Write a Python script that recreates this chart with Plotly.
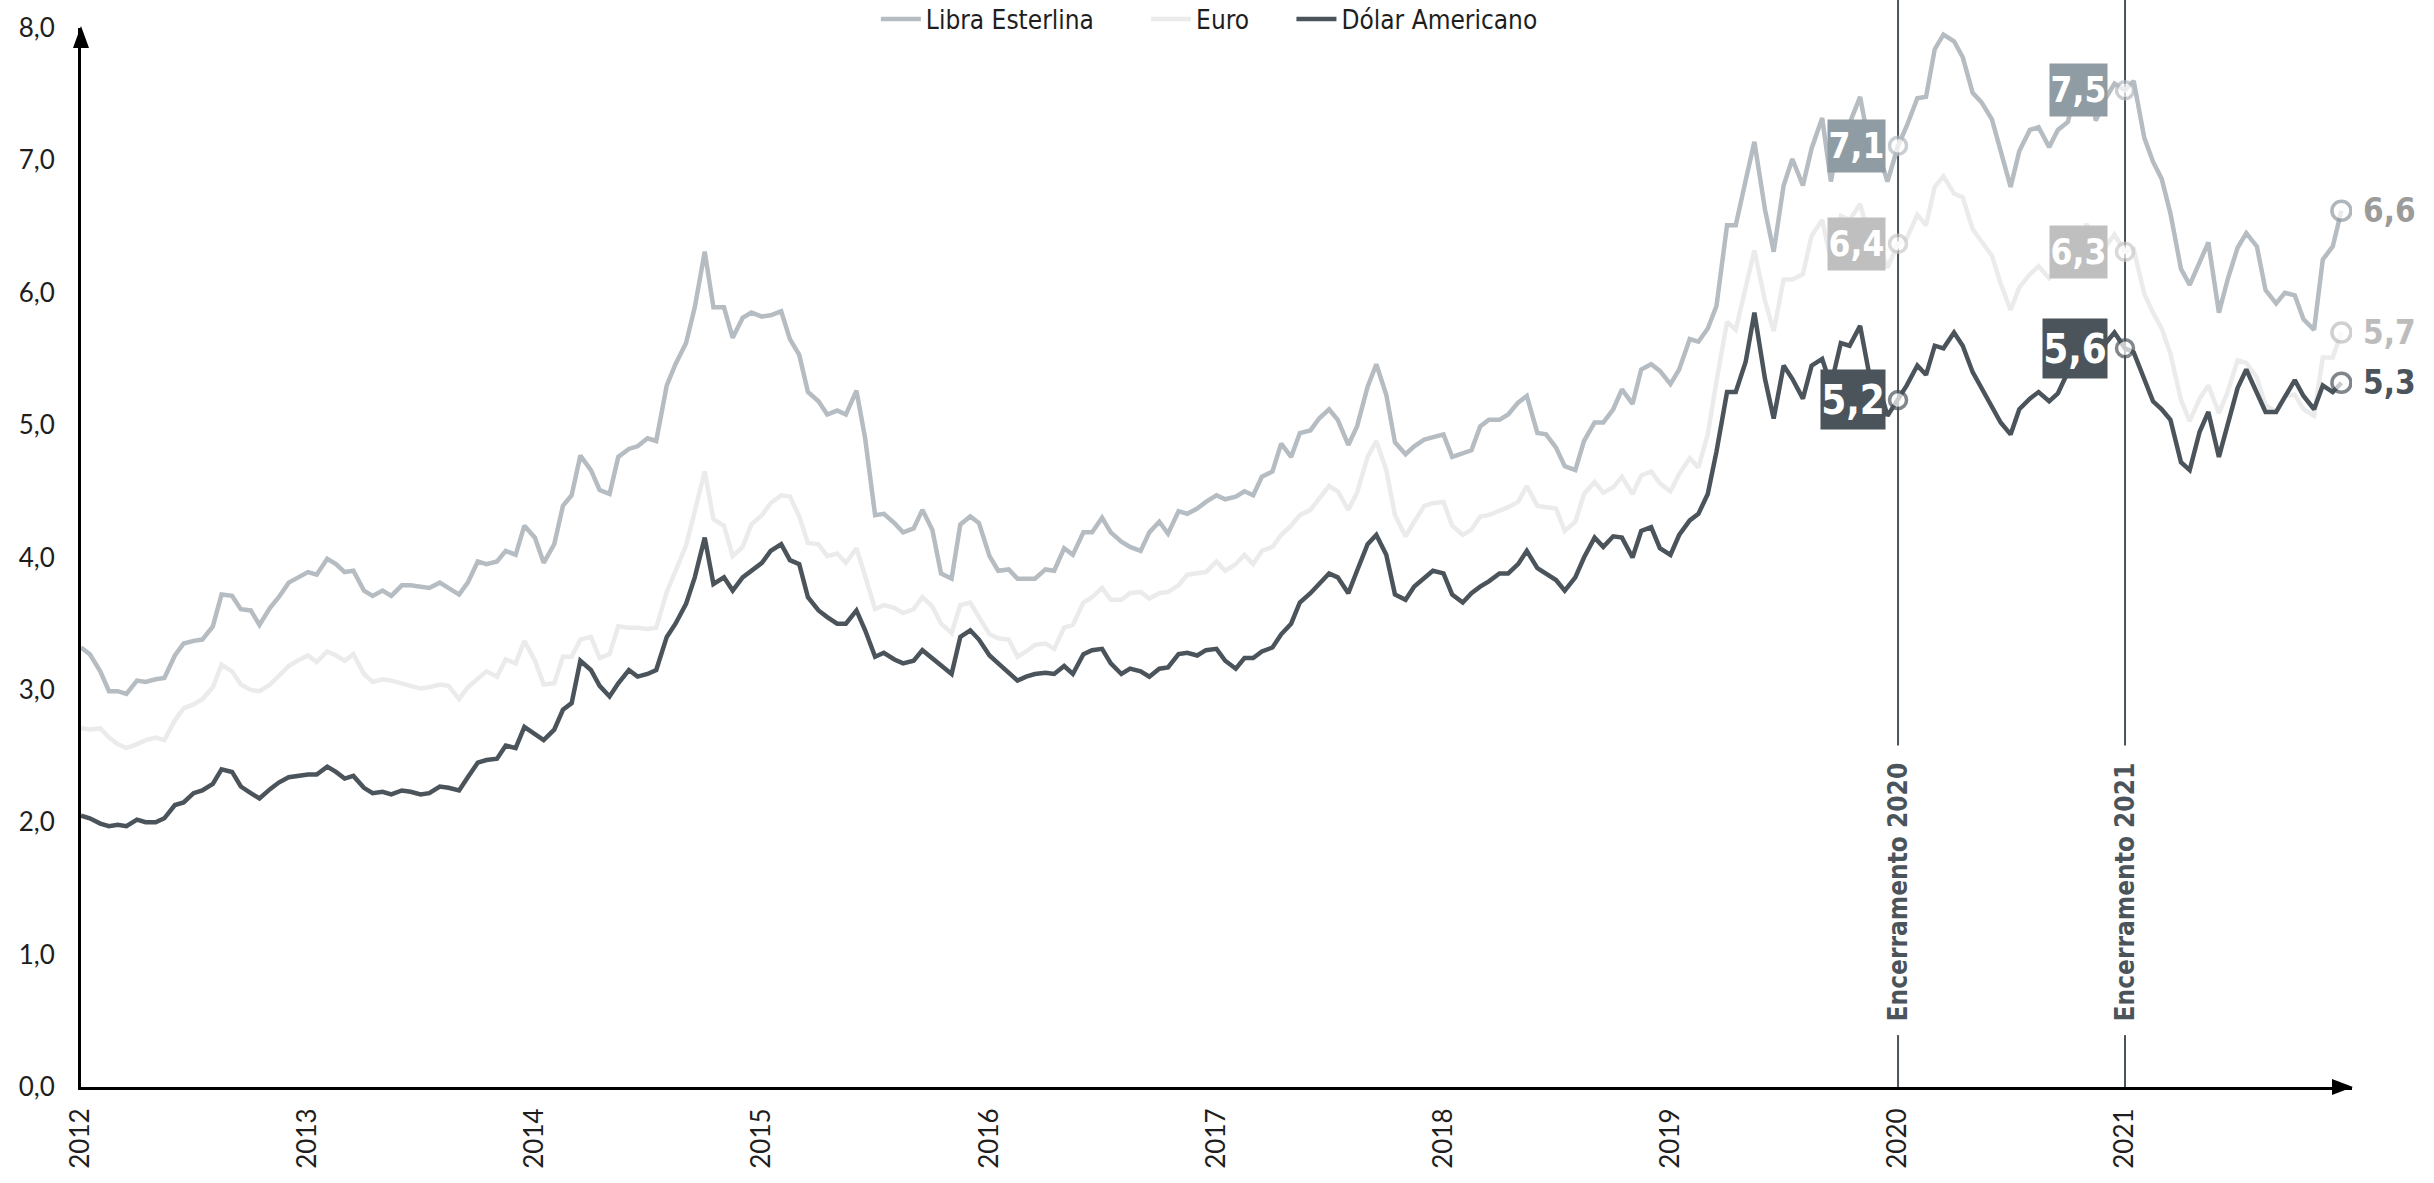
import pandas as pd
import plotly.graph_objects as go

# ---------------- data (semi-monthly readings, R$ per unit of foreign currency) ----------------
dates = pd.date_range("2013-01-01", periods=240, freq="SMS")

usd = [
    2.05, 2.03, 1.99, 1.97, 1.98, 1.97, 2.02, 2.00, 2.00, 2.03, 2.13, 2.15, 2.22, 2.24, 2.29, 2.40, 2.38, 2.27, 2.22, 2.18, 2.25, 2.30, 2.34, 2.35,
    2.36, 2.36, 2.42, 2.38, 2.33, 2.35, 2.26, 2.22, 2.23, 2.21, 2.24, 2.23, 2.21, 2.22, 2.27, 2.26, 2.24, 2.34, 2.45, 2.47, 2.48, 2.58, 2.56, 2.72,
    2.66, 2.62, 2.70, 2.85, 2.90, 3.22, 3.15, 3.03, 2.95, 3.05, 3.15, 3.10, 3.12, 3.15, 3.40, 3.50, 3.65, 3.85, 4.15, 3.80, 3.85, 3.75, 3.85, 3.90,
    3.96, 4.05, 4.10, 3.98, 3.95, 3.70, 3.60, 3.55, 3.50, 3.50, 3.60, 3.45, 3.25, 3.28, 3.23, 3.20, 3.22, 3.30, 3.24, 3.18, 3.12, 3.40, 3.45, 3.38,
    3.26, 3.20, 3.13, 3.07, 3.10, 3.12, 3.13, 3.12, 3.18, 3.12, 3.27, 3.30, 3.31, 3.20, 3.12, 3.16, 3.14, 3.10, 3.16, 3.17, 3.27, 3.28, 3.26, 3.30,
    3.31, 3.22, 3.16, 3.24, 3.24, 3.29, 3.32, 3.42, 3.50, 3.66, 3.73, 3.80, 3.88, 3.85, 3.73, 3.90, 4.10, 4.17, 4.02, 3.72, 3.68, 3.78, 3.85, 3.90,
    3.88, 3.72, 3.66, 3.73, 3.78, 3.82, 3.88, 3.88, 3.95, 4.05, 3.92, 3.88, 3.83, 3.75, 3.85, 4.00, 4.15, 4.08, 4.16, 4.15, 4.00, 4.20, 4.23, 4.07,
    4.02, 4.17, 4.28, 4.33, 4.48, 4.80, 5.25, 5.25, 5.48, 5.85, 5.35, 5.05, 5.45, 5.35, 5.20, 5.45, 5.50, 5.30, 5.62, 5.60, 5.75, 5.40, 5.30, 5.07,
    5.19, 5.30, 5.45, 5.38, 5.60, 5.58, 5.70, 5.60, 5.40, 5.28, 5.15, 5.02, 4.93, 5.12, 5.20, 5.25, 5.18, 5.24, 5.40, 5.50, 5.62, 5.45, 5.62, 5.70,
    5.58, 5.55, 5.35, 5.18, 5.12, 5.04, 4.72, 4.66, 4.95, 5.10, 4.76, 5.00, 5.28, 5.42, 5.25, 5.10, 5.10, 5.22, 5.34, 5.22, 5.12, 5.30, 5.25, 5.32,
]

eur = [
    2.71, 2.70, 2.71, 2.64, 2.59, 2.56, 2.59, 2.62, 2.64, 2.62, 2.77, 2.86, 2.89, 2.93, 3.02, 3.19, 3.14, 3.04, 3.00, 2.99, 3.04, 3.11, 3.18, 3.22,
    3.26, 3.21, 3.29, 3.26, 3.22, 3.27, 3.12, 3.06, 3.08, 3.07, 3.05, 3.03, 3.01, 3.02, 3.04, 3.03, 2.93, 3.02, 3.09, 3.14, 3.10, 3.23, 3.20, 3.37,
    3.22, 3.04, 3.05, 3.25, 3.25, 3.38, 3.40, 3.24, 3.27, 3.48, 3.47, 3.47, 3.46, 3.47, 3.74, 3.89, 4.09, 4.35, 4.65, 4.29, 4.24, 4.01, 4.08, 4.25,
    4.32, 4.41, 4.47, 4.46, 4.31, 4.11, 4.10, 4.01, 4.03, 3.96, 4.07, 3.86, 3.61, 3.64, 3.62, 3.58, 3.61, 3.70, 3.63, 3.50, 3.43, 3.64, 3.66, 3.55,
    3.42, 3.39, 3.38, 3.25, 3.29, 3.34, 3.35, 3.31, 3.47, 3.49, 3.66, 3.70, 3.77, 3.68, 3.68, 3.73, 3.74, 3.69, 3.73, 3.74, 3.79, 3.87, 3.88, 3.89,
    3.97, 3.90, 3.95, 4.02, 3.95, 4.05, 4.08, 4.17, 4.24, 4.32, 4.36, 4.45, 4.54, 4.50, 4.36, 4.49, 4.76, 4.88, 4.66, 4.32, 4.16, 4.27, 4.39, 4.41,
    4.42, 4.24, 4.17, 4.21, 4.31, 4.32, 4.35, 4.38, 4.42, 4.54, 4.39, 4.38, 4.37, 4.20, 4.27, 4.48, 4.57, 4.49, 4.53, 4.61, 4.48, 4.62, 4.65, 4.56,
    4.50, 4.63, 4.75, 4.68, 4.93, 5.33, 5.78, 5.72, 6.03, 6.32, 5.94, 5.71, 6.10, 6.10, 6.14, 6.43, 6.55, 6.25, 6.58, 6.55, 6.67, 6.43, 6.36, 6.19,
    6.37, 6.41, 6.59, 6.51, 6.80, 6.88, 6.75, 6.72, 6.48, 6.39, 6.28, 6.07, 5.87, 6.04, 6.14, 6.20, 6.11, 6.18, 6.26, 6.38, 6.52, 6.21, 6.35, 6.44,
    6.31, 6.33, 5.99, 5.85, 5.73, 5.54, 5.19, 5.03, 5.20, 5.30, 5.09, 5.25, 5.49, 5.47, 5.36, 5.15, 5.10, 5.22, 5.23, 5.12, 5.07, 5.51, 5.51, 5.70,
]

gbp = [
    3.32, 3.27, 3.14, 2.99, 2.99, 2.97, 3.07, 3.06, 3.08, 3.09, 3.26, 3.35, 3.37, 3.38, 3.48, 3.72, 3.71, 3.61, 3.60, 3.49, 3.62, 3.70, 3.81, 3.85,
    3.89, 3.87, 3.99, 3.95, 3.89, 3.90, 3.75, 3.71, 3.75, 3.71, 3.79, 3.79, 3.78, 3.77, 3.81, 3.77, 3.72, 3.81, 3.97, 3.95, 3.97, 4.05, 4.02, 4.24,
    4.15, 3.96, 4.10, 4.39, 4.47, 4.77, 4.66, 4.51, 4.48, 4.76, 4.82, 4.84, 4.90, 4.88, 5.30, 5.46, 5.62, 5.89, 6.31, 5.89, 5.89, 5.66, 5.81, 5.85,
    5.82, 5.83, 5.86, 5.65, 5.53, 5.25, 5.18, 5.08, 5.11, 5.08, 5.26, 4.90, 4.32, 4.33, 4.26, 4.19, 4.22, 4.36, 4.21, 3.88, 3.84, 4.25, 4.31, 4.26,
    4.01, 3.90, 3.91, 3.84, 3.84, 3.84, 3.91, 3.90, 4.07, 4.02, 4.19, 4.19, 4.30, 4.19, 4.12, 4.08, 4.05, 4.19, 4.27, 4.18, 4.35, 4.33, 4.37, 4.42,
    4.47, 4.44, 4.46, 4.50, 4.47, 4.61, 4.65, 4.86, 4.76, 4.94, 4.96, 5.05, 5.12, 5.04, 4.85, 4.99, 5.29, 5.46, 5.23, 4.87, 4.78, 4.84, 4.89, 4.91,
    4.93, 4.76, 4.79, 4.81, 4.99, 5.04, 5.04, 5.08, 5.17, 5.22, 4.94, 4.93, 4.83, 4.69, 4.66, 4.88, 5.02, 5.02, 5.12, 5.27, 5.16, 5.42, 5.46, 5.41,
    5.31, 5.42, 5.65, 5.63, 5.73, 5.90, 6.51, 6.51, 6.85, 7.14, 6.63, 6.31, 6.81, 7.01, 6.81, 7.09, 7.32, 6.84, 7.25, 7.28, 7.48, 7.13, 7.05, 6.84,
    7.11, 7.26, 7.47, 7.48, 7.84, 7.95, 7.90, 7.78, 7.51, 7.44, 7.31, 7.08, 6.80, 7.07, 7.23, 7.25, 7.10, 7.23, 7.29, 7.54, 7.70, 7.30, 7.47, 7.58,
    7.53, 7.60, 7.17, 6.99, 6.86, 6.60, 6.18, 6.06, 6.24, 6.38, 5.85, 6.10, 6.34, 6.45, 6.35, 6.02, 5.92, 6.00, 5.98, 5.80, 5.72, 6.25, 6.35, 6.62,
]

series_names = ["Libra Esterlina", "Euro", "Dólar Americano"]
year_tick_dates = ["2013-01-01", "2014-01-01", "2015-01-01", "2016-01-01", "2017-01-01",
                   "2018-01-01", "2019-01-01", "2020-01-01", "2021-01-01", "2022-01-01"]
year_tick_labels = ["2012", "2013", "2014", "2015", "2016", "2017", "2018", "2019", "2020", "2021"]
y_tick_vals = [0, 1, 2, 3, 4, 5, 6, 7, 8]
y_tick_labels = ["0,0", "1,0", "2,0", "3,0", "4,0", "5,0", "6,0", "7,0", "8,0"]
closing_dates = ["2021-01-01", "2022-01-01"]
closing_labels = ["Encerramento 2020", "Encerramento 2021"]

assert len(usd) == len(eur) == len(gbp) == len(dates)

# ---------------- styling ----------------
COND = "DejaVu Sans Condensed, Liberation Sans Narrow, Arial Narrow, sans-serif"
TICKFONT = dict(family="Lato, Open Sans, sans-serif", size=26, color="#1e1e1e")
line_cols = ["#b5bcc2", "#ebebeb", "#4b545b"]
ring_cols = ["#b3bac0", "#c9c9c9", "#4b545b"]
end_ring_cols = ["#8e99a0", "#bdbdbd", "#4b545b"]
box_cols = ["#8f9ca4", "#bfbfbf", "#4b545b"]
end_txt_cols = ["#9b9b9b", "#bcbcbc", "#4b545b"]
legend_ids = ["legend", "legend2", "legend3"]
legend_x = [0.350, 0.469, 0.533]


def fmt(v):
    return f"{v:.1f}".replace(".", ",")


fig = go.Figure()
all_vals = [gbp, eur, usd]
for name, vals, col, lg in zip(series_names, all_vals, line_cols, legend_ids):
    fig.add_trace(go.Scatter(x=dates, y=vals, mode="lines", name=name, legend=lg,
                             line=dict(color=col, width=4.5), hoverinfo="skip"))

idx = [dates.get_loc(pd.Timestamp(d)) for d in closing_dates] + [len(dates) - 1]
annotations = []
for k, vals in enumerate(all_vals):
    xs = [dates[i] for i in idx]
    ys = [vals[i] for i in idx]
    fig.add_trace(go.Scatter(
        x=xs, y=ys, mode="markers", showlegend=False, hoverinfo="skip",
        marker=dict(size=[17, 17, 19], color="white",
                    line=dict(width=3.5, color=[ring_cols[k], ring_cols[k], end_ring_cols[k]]))))
    dark = (k == 2)
    for j in range(2):
        annotations.append(dict(
            x=xs[j], y=ys[j], xref="x", yref="y", showarrow=False,
            text=f"<b>{fmt(ys[j])}</b>", xanchor="right", yanchor="middle",
            xshift=-12 if j == 0 else -17,
            width=64 if dark else 57, height=59 if dark else 52, borderpad=0,
            bgcolor=box_cols[k], align="center", valign="middle",
            font=dict(family=COND, size=40 if dark else 35, color="white")))
    annotations.append(dict(
        x=xs[2], y=ys[2], xref="x", yref="y", showarrow=False,
        text=f"<b>{fmt(ys[2])}</b>", xanchor="left", yanchor="middle", xshift=20,
        font=dict(family=COND, size=33, color=end_txt_cols[k])))

shapes = []
for d, lab in zip(closing_dates, closing_labels):
    shapes.append(dict(type="line", xref="x", yref="paper", x0=d, x1=d, y0=0, y1=0.049,
                       line=dict(color="#4b545b", width=2), layer="below"))
    shapes.append(dict(type="line", xref="x", yref="paper", x0=d, x1=d, y0=0.3225, y1=1.03,
                       line=dict(color="#4b545b", width=2), layer="below"))
    annotations.append(dict(x=d, y=1.47, xref="x", yref="y", showarrow=False,
                            text=f"<b>{lab}</b>", textangle=-90,
                            font=dict(family=COND, size=26, color="#4b545b")))

# axis arrowheads (paper-anchored so they are not clipped by the plot area)
shapes.append(dict(type="path", xref="paper", yref="paper", xsizemode="pixel", ysizemode="pixel",
                   xanchor=0, yanchor=1, path="M -8,-20 L 8,-20 L 0,2 Z",
                   fillcolor="black", line=dict(width=0)))
shapes.append(dict(type="path", xref="paper", yref="paper", xsizemode="pixel", ysizemode="pixel",
                   xanchor=1, yanchor=0, path="M -20,-8 L -20,8 L 1,0 Z",
                   fillcolor="black", line=dict(width=0)))

legend_common = dict(orientation="h", xanchor="left", y=1.0085, yanchor="middle",
                     font=dict(family=COND, size=26, color="#1e1e1e"),
                     bgcolor="rgba(0,0,0,0)", itemwidth=40)

fig.update_layout(
    width=2434, height=1183,
    margin=dict(l=81, r=82, t=28, b=96, autoexpand=False),
    plot_bgcolor="white", paper_bgcolor="white",
    showlegend=True,
    legend=dict(x=legend_x[0], **legend_common),
    legend2=dict(x=legend_x[1], **legend_common),
    legend3=dict(x=legend_x[2], **legend_common),
    xaxis=dict(type="date", range=["2013-01-01", "2023-01-01"],
               tickvals=year_tick_dates, ticktext=year_tick_labels, tickangle=-90,
               showgrid=False, zeroline=False, showline=True, linecolor="black", linewidth=3,
               ticks="", tickfont=TICKFONT, ticklabelstandoff=8, automargin=False),
    yaxis=dict(range=[0, 8], tickvals=y_tick_vals, ticktext=y_tick_labels,
               showgrid=False, zeroline=False, showline=True, linecolor="black", linewidth=3,
               ticks="", tickfont=TICKFONT, ticklabelstandoff=18, automargin=False),
    shapes=shapes, annotations=annotations,
)

fig.write_html("out.html", config={"displayModeBar": False},
               post_script="document.body.style.margin='0';document.body.style.overflow='hidden';")
